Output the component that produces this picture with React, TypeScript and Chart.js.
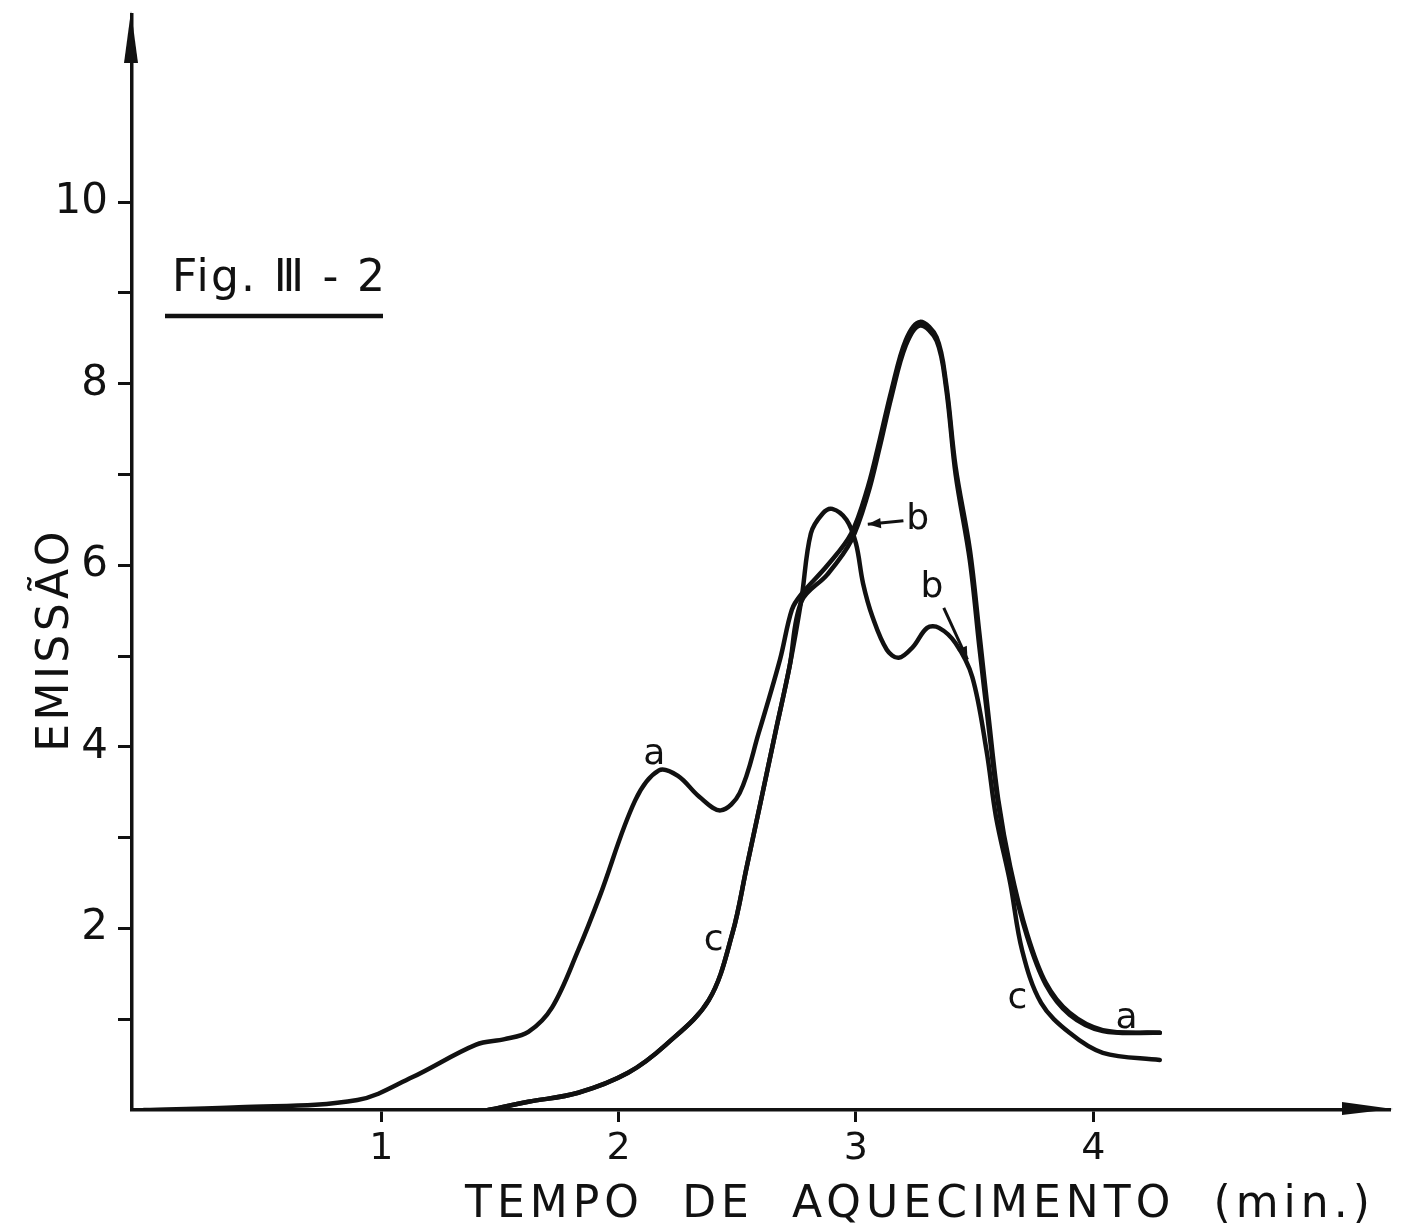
import React, { useEffect, useRef } from 'react';
import { Chart, registerables } from 'chart.js';

Chart.register(...registerables);

// ---- data ----
const X_TICKS = [1, 2, 3, 4];
const Y_TICKS = [1, 2, 3, 4, 5, 6, 7, 8, 9, 10];
const Y_LABELED = [2, 4, 6, 8, 10];

const A_X = [0, 0.4, 0.9, 1.13, 1.4, 1.52, 1.62, 1.72, 1.83, 1.92, 2.07, 2.17, 2.25, 2.34, 2.43, 2.51, 2.59, 2.68, 2.73, 2.77, 2.88, 2.98, 3.05, 3.10, 3.15, 3.21, 3.27, 3.34, 3.38, 3.42, 3.48, 3.52, 3.56, 3.60, 3.65, 3.72, 3.80, 3.90, 4.04, 4.28];
const A_Y = [0, 0.03, 0.11, 0.36, 0.72, 0.78, 0.86, 1.13, 1.76, 2.35, 3.41, 3.74, 3.68, 3.45, 3.3, 3.49, 4.15, 4.96, 5.51, 5.68, 6.0, 6.35, 6.86, 7.38, 7.93, 8.48, 8.68, 8.51, 8.0, 7.08, 6.17, 5.25, 4.3, 3.41, 2.68, 1.95, 1.40, 1.07, 0.88, 0.85];

const B_X = [1.45, 1.62, 1.83, 2.04, 2.2, 2.38, 2.48, 2.54, 2.60, 2.66, 2.72, 2.77, 2.88, 2.98, 3.05, 3.10, 3.15, 3.21, 3.27, 3.34, 3.38, 3.42, 3.48, 3.52, 3.56, 3.60, 3.65, 3.72, 3.80, 3.90, 4.04, 4.28];
const B_Y = [0, 0.09, 0.19, 0.41, 0.72, 1.21, 1.95, 2.68, 3.41, 4.15, 4.88, 5.6, 5.9, 6.27, 6.78, 7.3, 7.86, 8.42, 8.64, 8.47, 7.95, 7.0, 6.05, 5.1, 4.2, 3.36, 2.64, 1.92, 1.38, 1.05, 0.87, 0.85];

const C_X = [1.45, 1.62, 1.83, 2.04, 2.2, 2.38, 2.48, 2.54, 2.60, 2.66, 2.72, 2.77, 2.81, 2.86, 2.90, 2.96, 3.0, 3.03, 3.07, 3.13, 3.18, 3.24, 3.30, 3.35, 3.42, 3.49, 3.55, 3.59, 3.65, 3.70, 3.78, 3.90, 4.04, 4.28];
const C_Y = [0, 0.09, 0.19, 0.41, 0.72, 1.21, 1.95, 2.68, 3.41, 4.15, 4.88, 5.62, 6.35, 6.57, 6.62, 6.5, 6.24, 5.8, 5.43, 5.07, 4.98, 5.1, 5.31, 5.31, 5.14, 4.77, 3.96, 3.23, 2.5, 1.76, 1.18, 0.85, 0.63, 0.55];

const CURVE_LABELS = [
  { text: 'a', x: 2.15, y: 3.91 },
  { text: 'a', x: 4.14, y: 1.01 },
  { text: 'c', x: 2.40, y: 1.87 },
  { text: 'c', x: 3.68, y: 1.23 },
  { text: 'b', x: 3.26, y: 6.5 },
  { text: 'b', x: 3.32, y: 5.75 },
];
const ARROWS = [
  { x1: 3.20, y1: 6.49, x2: 3.05, y2: 6.45 },
  { x1: 3.37, y1: 5.53, x2: 3.47, y2: 4.96 },
];

const FIG_TITLE = 'Fig. Ⅲ - 2';
const X_TITLE = 'TEMPO  DE  AQUECIMENTO  (min.)';
const Y_TITLE = 'EMISSÃO';

const FONT = '"DejaVu Sans", "Liberation Sans", sans-serif';
const INK = '#111';

function toPoints(xs: number[], ys: number[]) {
  return xs.map((x, i) => ({ x, y: ys[i] }));
}

function fitText(ctx: CanvasRenderingContext2D, text: string, target: number) {
  (ctx as any).letterSpacing = '0px';
  const w = ctx.measureText(text).width;
  const s = Math.max(0, (target - w) / (text.length - 1));
  (ctx as any).letterSpacing = `${s}px`;
}

const decorPlugin = {
  id: 'decor',
  afterDraw(chart: any) {
    const ctx = chart.ctx as CanvasRenderingContext2D;
    const xs = chart.scales.x;
    const ys = chart.scales.y;
    const area = chart.chartArea;
    ctx.save();
    ctx.fillStyle = INK;
    ctx.strokeStyle = INK;

    // axis arrowheads
    ctx.beginPath();
    ctx.moveTo(area.left - 1, area.top - 4);
    ctx.lineTo(area.left - 8, area.top + 48);
    ctx.lineTo(area.left + 6, area.top + 48);
    ctx.closePath();
    ctx.fill();
    ctx.beginPath();
    ctx.moveTo(area.right + 3, area.bottom - 1);
    ctx.lineTo(area.right - 48, area.bottom - 8);
    ctx.lineTo(area.right - 48, area.bottom + 5);
    ctx.closePath();
    ctx.fill();

    // curve labels
    ctx.font = `36px ${FONT}`;
    ctx.textAlign = 'center';
    ctx.textBaseline = 'middle';
    for (const l of CURVE_LABELS) {
      ctx.fillText(l.text, xs.getPixelForValue(l.x), ys.getPixelForValue(l.y));
    }

    // arrows
    for (const a of ARROWS) {
      const x1 = xs.getPixelForValue(a.x1);
      const y1 = ys.getPixelForValue(a.y1);
      const x2 = xs.getPixelForValue(a.x2);
      const y2 = ys.getPixelForValue(a.y2);
      ctx.lineWidth = 3;
      ctx.beginPath();
      ctx.moveTo(x1, y1);
      ctx.lineTo(x2, y2);
      ctx.stroke();
      const ang = Math.atan2(y2 - y1, x2 - x1);
      const L = 14;
      ctx.beginPath();
      ctx.moveTo(x2, y2);
      ctx.lineTo(x2 - L * Math.cos(ang - 0.38), y2 - L * Math.sin(ang - 0.38));
      ctx.lineTo(x2 - L * Math.cos(ang + 0.38), y2 - L * Math.sin(ang + 0.38));
      ctx.closePath();
      ctx.fill();
    }

    // figure title with underline
    ctx.textAlign = 'left';
    ctx.textBaseline = 'alphabetic';
    ctx.font = `44px ${FONT}`;
    fitText(ctx, FIG_TITLE, 213);
    ctx.fillText(FIG_TITLE, 172, 291);
    (ctx as any).letterSpacing = '0px';
    ctx.lineWidth = 4.5;
    ctx.beginPath();
    ctx.moveTo(165, 316);
    ctx.lineTo(383, 316);
    ctx.stroke();

    // x axis title
    ctx.font = `44px ${FONT}`;
    fitText(ctx, X_TITLE, 905);
    ctx.fillText(X_TITLE, 465, 1217);

    // y axis title
    ctx.font = `44px ${FONT}`;
    fitText(ctx, Y_TITLE, 220);
    ctx.translate(68, 640);
    ctx.rotate(-Math.PI / 2);
    ctx.textAlign = 'center';
    ctx.fillText(Y_TITLE, 0, 0);
    ctx.restore();
  },
};

export default function App() {
  const ref = useRef<HTMLCanvasElement | null>(null);

  useEffect(() => {
    if (!ref.current) return;
    const lineStyle = {
      borderColor: INK,
      borderWidth: 4.5,
      pointRadius: 0,
      fill: false,
      tension: 0.35,
      borderCapStyle: 'round' as const,
      borderJoinStyle: 'round' as const,
    };
    const chart = new Chart(ref.current, {
      type: 'line',
      data: {
        datasets: [
          { label: 'a', data: toPoints(A_X, A_Y), ...lineStyle },
          { label: 'b', data: toPoints(B_X, B_Y), ...lineStyle },
          { label: 'c', data: toPoints(C_X, C_Y), ...lineStyle },
        ],
      },
      options: {
        animation: false,
        responsive: false,
        layout: { padding: { top: 15, right: 16, left: 0, bottom: 0 } },
        plugins: { legend: { display: false }, tooltip: { enabled: false } },
        scales: {
          x: {
            type: 'linear',
            min: -0.05,
            max: 5.25,
            afterFit: (s: any) => {
              s.height = 117;
              s.paddingLeft = 0;
              s.paddingRight = 0;
            },
            afterBuildTicks: (s: any) => { s.ticks = X_TICKS.map((v) => ({ value: v })); },
            grid: { drawOnChartArea: false, drawTicks: true, tickLength: 12, tickWidth: 3, tickColor: INK },
            border: { display: true, color: INK, width: 3.5 },
            ticks: {
              color: INK,
              padding: 4,
              font: { family: FONT, size: 38 },
              callback: (v: any) => String(v),
            },
          },
          y: {
            type: 'linear',
            min: 0,
            max: 12.06,
            afterFit: (s: any) => {
              s.width = 132;
              s.paddingTop = 0;
              s.paddingBottom = 0;
            },
            afterBuildTicks: (s: any) => { s.ticks = Y_TICKS.map((v) => ({ value: v })); },
            grid: { drawOnChartArea: false, drawTicks: true, tickLength: 14, tickWidth: 3, tickColor: INK },
            border: { display: true, color: INK, width: 3.5 },
            ticks: {
              color: INK,
              padding: 10,
              font: { family: FONT, size: 42 },
              callback: (v: any) => (Y_LABELED.includes(Number(v)) ? String(v) : ''),
            },
          },
        },
      },
      plugins: [decorPlugin],
    });
    return () => chart.destroy();
  }, []);

  return (
    <div style={{ position: 'absolute', left: 0, top: 0, width: 1406, height: 1227, background: '#fff' }}>
      <canvas ref={ref} width={1406} height={1227} />
    </div>
  );
}
